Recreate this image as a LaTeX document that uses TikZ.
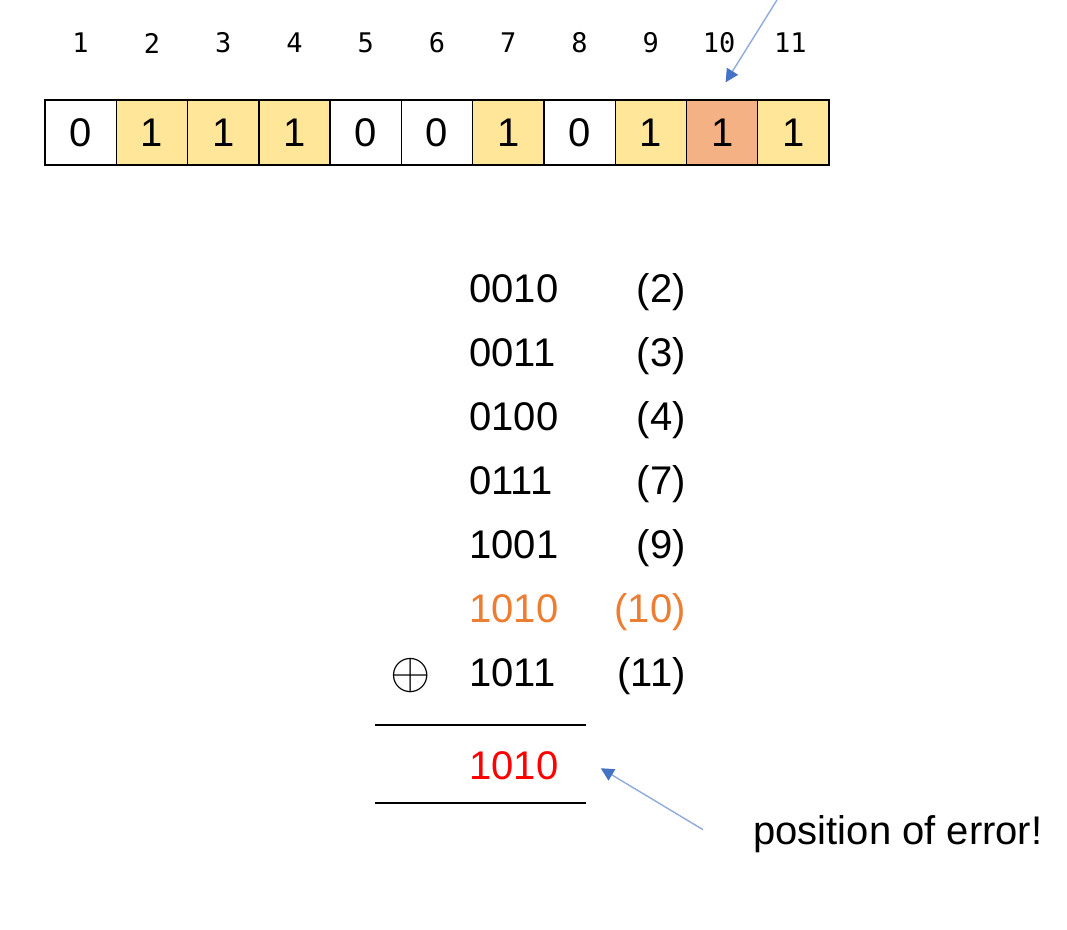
\documentclass[tikz,border=0pt]{standalone}
\usepackage{fontspec}
\setmainfont{Liberation Sans}
\newfontfamily\idxfont{DejaVu Sans Mono}
\usetikzlibrary{arrows.meta}
\definecolor{bityellow}{RGB}{255,230,153}
\definecolor{bitorange}{RGB}{244,177,131}
\definecolor{ptrline}{RGB}{143,170,220}
\definecolor{ptrhead}{RGB}{68,114,196}
\definecolor{roworange}{RGB}{237,125,49}

\begin{document}
\begin{tikzpicture}[x=0.5pt,y=-0.5pt,node distance=35.64pt,
  cell/.style={draw,line width=0.7pt,minimum width=35.64pt,minimum height=32.5pt,inner sep=0pt,font=\fontsize{20}{24}\selectfont},
  one/.style={fill=bityellow},
  flip/.style={fill=bitorange},
  idx/.style={font=\idxfont\fontsize{13.5}{16}\selectfont},
  num/.style={anchor=base west,inner xsep=0pt,font=\fontsize{20}{24}\selectfont},
  place/.style={anchor=base east,inner xsep=0pt,font=\fontsize{20}{24}\selectfont},
  rule/.style={line width=1.2pt},
  ptr/.style={draw=ptrline,line width=0.7pt,-{Triangle[length=6.5pt,width=6.5pt,color=ptrhead]}}]

  \useasboundingbox (0,0) rectangle (1067,930);

  % the eleven bits
  \node[cell] (c1) at (80.6,132.5) {0};
  \node[cell,one] (c2) [right of=c1] {1};
  \node[cell,one] (c3) [right of=c2] {1};
  \node[cell,one] (c4) [right of=c3] {1};
  \node[cell] (c5) [right of=c4] {0};
  \node[cell] (c6) [right of=c5] {0};
  \node[cell,one] (c7) [right of=c6] {1};
  \node[cell] (c8) [right of=c7] {0};
  \node[cell,one] (c9) [right of=c8] {1};
  \node[cell,flip] (c10) [right of=c9] {1};
  \node[cell,one] (c11) [right of=c10] {1};

  % positions
  \node[idx] (n1) [above of=c1,node distance=44.7pt] {1};
  \node[idx] (n2) [above of=c2,node distance=44.7pt] {2};
  \node[idx] (n3) [above of=c3,node distance=44.7pt] {3};
  \node[idx] (n4) [above of=c4,node distance=44.7pt] {4};
  \node[idx] (n5) [above of=c5,node distance=44.7pt] {5};
  \node[idx] (n6) [above of=c6,node distance=44.7pt] {6};
  \node[idx] (n7) [above of=c7,node distance=44.7pt] {7};
  \node[idx] (n8) [above of=c8,node distance=44.7pt] {8};
  \node[idx] (n9) [above of=c9,node distance=44.7pt] {9};
  \node[idx] (n10) [above of=c10,node distance=44.7pt,xshift=-1.5pt] {10};
  \node[idx] (n11) [above of=c11,node distance=44.7pt,xshift=-1.5pt] {11};

  \coordinate (src) at (777,0);
  \draw[ptr] (src) -- ([shift={(3.5,-17)}]c10.north);

  % xor of the set positions
  \node[num] (r2) at (469,303) {0010};
  \node[num] (r3) at (469,367) {0011};
  \node[num] (r4) at (469,431) {0100};
  \node[num] (r7) at (469,495) {0111};
  \node[num] (r9) at (469,559) {1001};
  \node[num,text=roworange] (r10) at (469,623) {1010};
  \node[num] (r11) at (469,687) {1011};

  \node[place] (p2) at (686,303) {(2)};
  \node[place] (p3) at (686,367) {(3)};
  \node[place] (p4) at (686,431) {(4)};
  \node[place] (p7) at (686,495) {(7)};
  \node[place] (p9) at (686,559) {(9)};
  \node[place,text=roworange] (p10) at (686,623) {(10)};
  \node[place] (p11) at (686,687) {(11)};

  \node[font=\fontsize{20}{24}\selectfont,scale=1.25] (op) at (411,676) {$\oplus$};

  \draw[rule] (375,725) -- (586,725);
  \node[num,text=red] (res) at (469,780) {1010};
  \draw[rule] (375,803) -- (586,803);

  \node[num] (err) at (753,844) {position of error!};
  \draw[ptr] ([shift={(-50,-4)}]err.west) -- ([shift={(42,2)}]res.east);

\end{tikzpicture}
\end{document}
